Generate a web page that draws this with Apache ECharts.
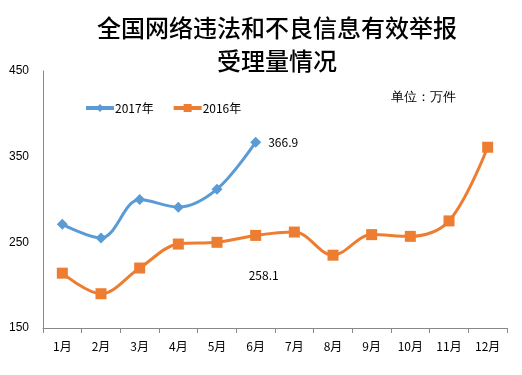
<!DOCTYPE html>
<html>
<head>
<meta charset="utf-8">
<script src="https://cdn.jsdelivr.net/npm/echarts@6/dist/echarts.min.js"></script>
<style>
  html, body { margin: 0; padding: 0; background: #fff; }
  #main { width: 522px; height: 375px; }
</style>
</head>
<body>
<div id="main"></div>
<script>
// 月份
const months = ['1月', '2月', '3月', '4月', '5月', '6月', '7月', '8月', '9月', '10月', '11月', '12月'];
// 举报受理量（万件）
const data2017 = [271, 255, 300, 291, 312, 366.9];
const data2016 = [214, 190, 220, 248, 250, 258.1, 262, 235, 259, 257, 275, 361];
// 只标注的数据点
const labelIdx2017 = 5;
const labelIdx2016 = 5;

const cjk = '"Noto Sans CJK SC", sans-serif';
const chart = echarts.init(document.getElementById('main'));

chart.setOption({
    animation: false,
    textStyle: { fontFamily: cjk },
    title: {
        text: '全国网络违法和不良信息有效举报\n受理量情况',
        left: 272,
        textAlign: 'center',
        top: 6,
        textStyle: {
            fontSize: 24,
            fontWeight: 500,
            color: '#000',
            lineHeight: 33,
            fontFamily: cjk
        }
    },
    graphic: [{
        type: 'text',
        left: 391,
        top: 91,
        style: { text: '单位：万件', fontSize: 13, fill: '#000', font: '13px "Noto Sans CJK SC"' }
    }],
    legend: {
        left: 79,
        top: 97,
        itemWidth: 28,
        itemHeight: 10,
        itemGap: 18,
        lineStyle: { width: 4 },
        textStyle: { fontSize: 12, color: '#000', padding: [0, 0, 0, -4] },
        data: ['2017年', '2016年']
    },
    grid: { left: 43, right: 15, top: 71, bottom: 47 },
    xAxis: {
        type: 'category',
        data: months,
        boundaryGap: true,
        axisLine: { lineStyle: { color: '#888', width: 1 } },
        axisTick: { show: true, alignWithLabel: false, length: 5, lineStyle: { color: '#888' } },
        axisLabel: { color: '#000', fontSize: 12, margin: 12 }
    },
    yAxis: {
        type: 'value',
        min: 150,
        max: 450,
        interval: 100,
        axisLine: { show: true, lineStyle: { color: '#888', width: 1 } },
        axisTick: { show: false },
        splitLine: { show: false },
        axisLabel: { color: '#000', fontSize: 12, margin: 14, fontFamily: 'Liberation Sans' }
    },
    series: [
        {
            name: '2017年',
            type: 'line',
            smooth: 0.35,
            data: data2017.map((v, i) => i === labelIdx2017
                ? { value: v, label: { show: true, position: 'right', distance: 7, color: '#000', fontSize: 12 } }
                : v),
            symbol: 'diamond',
            symbolSize: 11,
            lineStyle: { color: '#5B9BD5', width: 3 },
            itemStyle: { color: '#5B9BD5' },
            z: 3
        },
        {
            name: '2016年',
            type: 'line',
            smooth: 0.35,
            data: data2016.map((v, i) => i === labelIdx2016
                ? { value: v, label: { show: true, position: 'bottom', offset: [8, 24], color: '#000', fontSize: 12 } }
                : v),
            symbol: 'rect',
            symbolSize: 11,
            lineStyle: { color: '#ED7D31', width: 3 },
            itemStyle: { color: '#ED7D31' },
            z: 2
        }
    ]
});
</script>
</body>
</html>
